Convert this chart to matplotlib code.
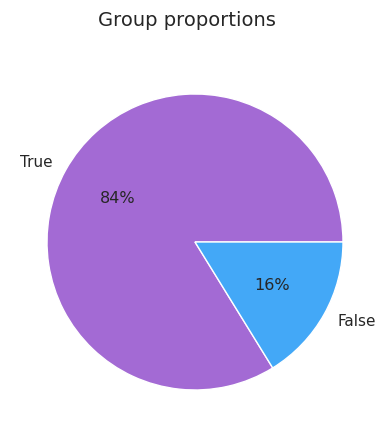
import matplotlib
matplotlib.use("Agg")
import matplotlib.pyplot as plt
import seaborn as sns

labels = ["True", "False"]
shares = [83.8, 16.2]
colors = ["#a36ad4", "#43a8f7"]

sns.set_theme(style="white")

fig = plt.figure(figsize=(3.89, 4.37), dpi=100)
# square axes: 370 px wide, centred on the pie
ax = fig.add_axes([10 / 389, 10 / 437, 370 / 389, 370 / 437])
wedges, texts, autotexts = ax.pie(
    shares, labels=labels, colors=colors, autopct="%1.0f%%",
    wedgeprops={"edgecolor": "white", "linewidth": 1},
    textprops={"fontsize": 11, "color": "#262626"})
for t in autotexts:
    t.set_fontsize(11.5)
ax.set_xlim(-1.25, 1.25)
ax.set_ylim(-1.25, 1.25)
ax.set_title("Group proportions", fontsize=14, color="#262626", pad=22, x=0.478)
fig.savefig("out.png", dpi=100)
